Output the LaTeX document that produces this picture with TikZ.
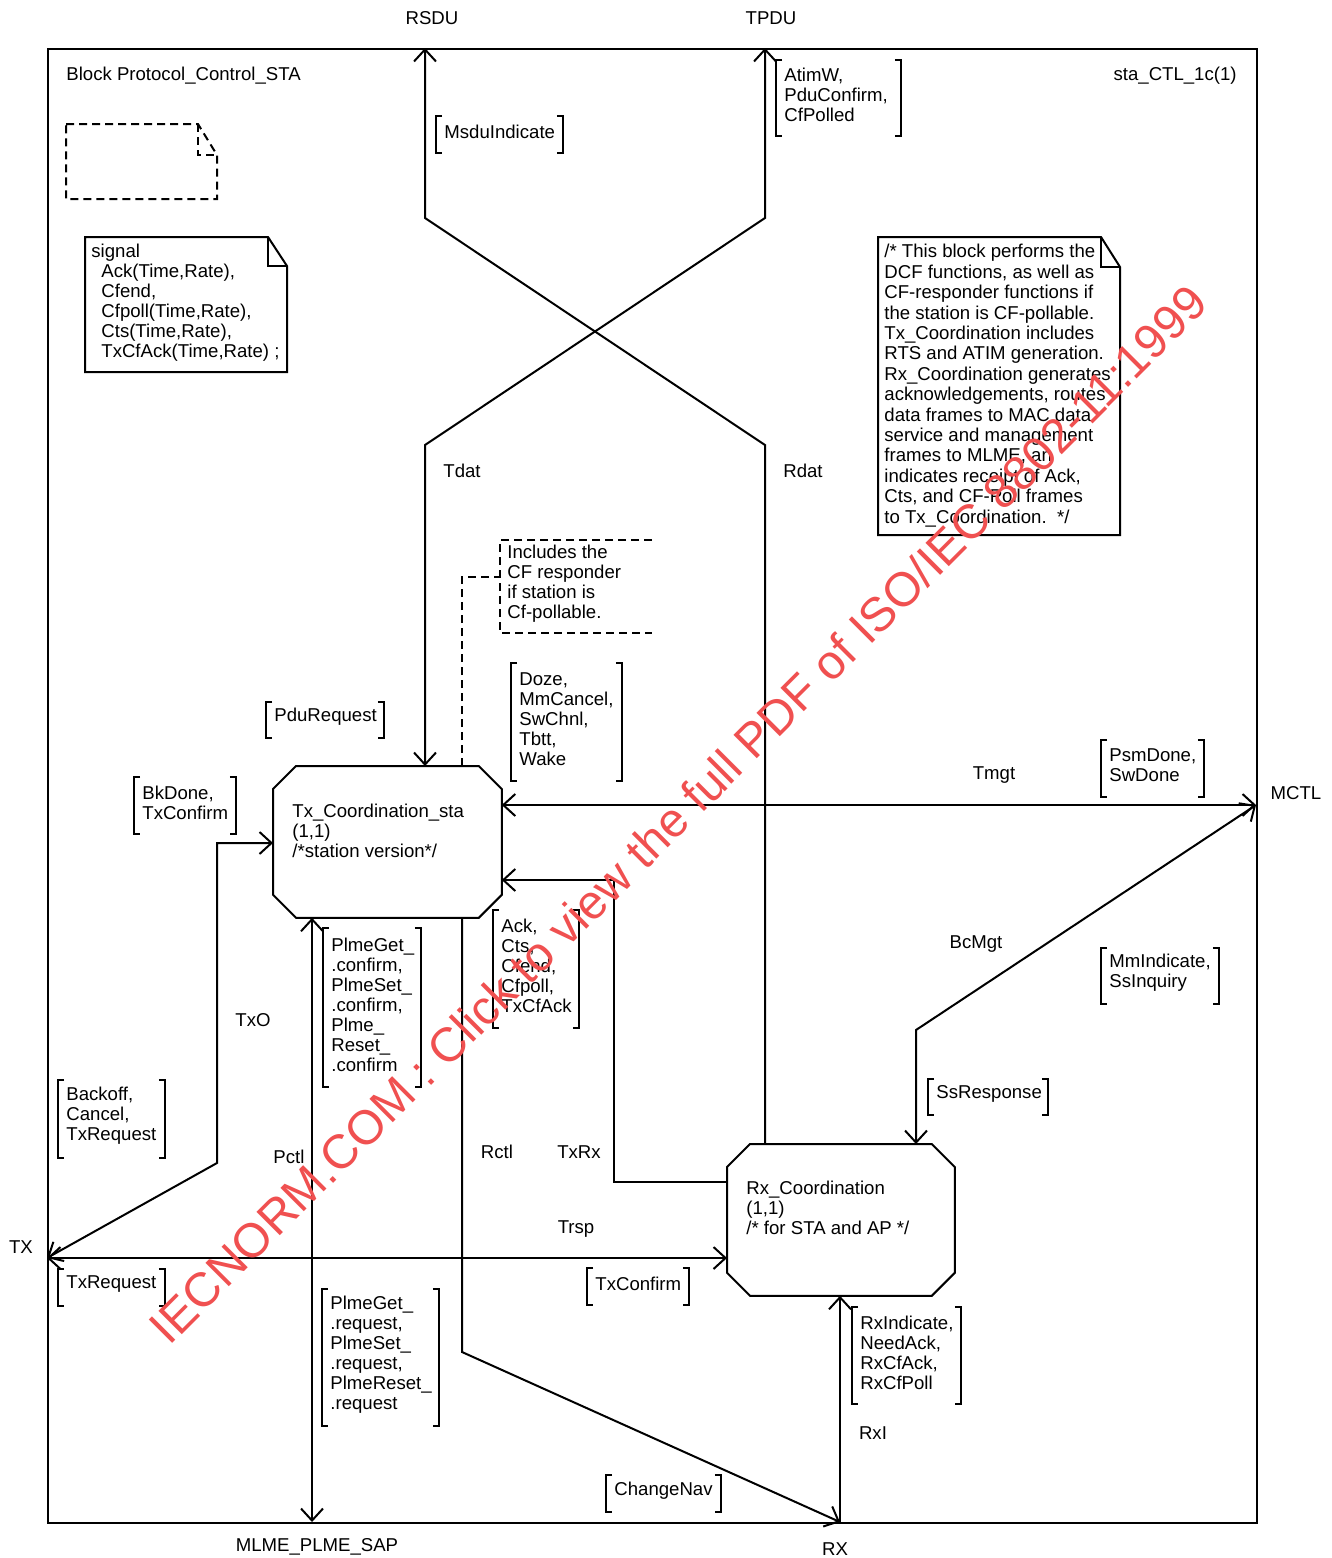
\documentclass[tikz,border=0pt]{standalone}
\usepackage{fontspec}
\setmainfont{Liberation Sans}
\usetikzlibrary{arrows.meta}
\definecolor{wmred}{RGB}{240,80,80}
\newcommand\sigbox[6]{%
  \pgfmathsetmacro\sbw{(#4-#2)*0.5}%
  \pgfmathsetmacro\sbmh{(#5-#3)*0.5}%
  \node[brk, minimum width=\sbw pt, minimum height=\sbmh pt] (#1) at (#2,#3) {};
  \node[anchor=west, align=left, xshift=4pt, yshift=1.5pt] (#1t) at (#1.west) {#6};
  \draw[brkline] ([xshift=3pt]#1.north west) -- (#1.north west) -- (#1.south west) -- ([xshift=3pt]#1.south west);
  \draw[brkline] ([xshift=-3pt]#1.north east) -- (#1.north east) -- (#1.south east) -- ([xshift=-3pt]#1.south east);}
\newcommand\octagonof[1]{%
  \draw[sig] ([xshift=11.5pt]#1.north west) -- ([xshift=-11.5pt]#1.north east)
    -- ([yshift=-11.5pt]#1.north east) -- ([yshift=11.5pt]#1.south east)
    -- ([xshift=-11.5pt]#1.south east) -- ([xshift=11.5pt]#1.south west)
    -- ([yshift=11.5pt]#1.south west) -- ([yshift=-11.5pt]#1.north west) -- cycle;}
\begin{document}
\begin{tikzpicture}[x=0.5pt,y=-0.5pt,
  every node/.style={font=\fontsize{9.3}{10}\selectfont, inner sep=0pt},
  sig/.style={line width=1pt, line join=miter},
  arr/.style={arrows={-Straight Barb[length=6pt,width=11pt,line width=1pt]}},
  barr/.style={arrows={Straight Barb[length=6pt,width=11pt,line width=1pt]-Straight Barb[length=6pt,width=11pt,line width=1pt]}},
  brk/.style={anchor=north west, inner sep=0pt},
  brkline/.style={line width=1pt},
  dsh/.style={line width=1pt, dash pattern=on 4pt off 2.5pt},
  proc/.style={anchor=north west, minimum width=114pt, minimum height=75.5pt},
  lbl/.style={anchor=center}]
\useasboundingbox (0,0) rectangle (1332,1558);
\fill[white] (0,0) rectangle (1332,1558);

% frame
\node[draw, line width=1pt, anchor=north west, minimum width=604.5pt, minimum height=737pt] (frame) at (47,48) {};

% gates
\coordinate (rsdu) at (425,48);
\coordinate (tpdu) at (765,48);
\coordinate (mctl) at (1256,805);
\coordinate (txg) at (47,1258);
\coordinate (mlme) at (312,1522);
\coordinate (rxg) at (840,1522);

\node[lbl] (lRSDU) at (432,18) {RSDU};
\node[lbl] (lTPDU) at (771,18) {TPDU};
\node[lbl] (lMCTL) at (1296,793) {MCTL};
\node[lbl] (lTX) at (21,1247) {TX};
\node[lbl] (lMLME) at (317,1547) {MLME\_PLME\_SAP};
\node[lbl] (lRX) at (835,1549) {RX};

\node[anchor=west] (blk) at (66,76) {Block Protocol\_Control\_STA};
\node[anchor=east] (sta) at (1237,76) {sta\_CTL\_1c(1)};

% dashed empty note
\draw[dsh] (66,124) -- (198,124) -- (217,155) -- (217,199) -- (66,199) -- cycle;
\draw[dsh] (198,124) -- (198,155) -- (217,155);

% signal note
\draw[sig] (85,237) -- (268,237) -- (287,266) -- (287,372) -- (85,372) -- cycle;
\draw[sig] (268,237) -- (268,266) -- (287,266);
\node[anchor=north west, align=left] (signote) at (91,244) {signal\\
\hspace*{5pt}Ack(Time,Rate),\\
\hspace*{5pt}Cfend,\\
\hspace*{5pt}Cfpoll(Time,Rate),\\
\hspace*{5pt}Cts(Time,Rate),\\
\hspace*{5pt}TxCfAck(Time,Rate) ;};

% big comment note
\draw[sig] (878,237) -- (1101,237) -- (1120,267) -- (1120,535) -- (878,535) -- cycle;
\draw[sig] (1101,237) -- (1101,267) -- (1120,267);
\node[anchor=north west, align=left, font=\fontsize{9.3}{10.2}\selectfont] (note) at (884,244) {/* This block performs the\\
DCF functions, as well as\\
CF-responder functions if\\
the station is CF-pollable.\\
Tx\_Coordination includes\\
RTS and ATIM generation.\\
Rx\_Coordination generates\\
acknowledgements, routes\\
data frames to MAC data\\
service and management\\
frames to MLME, an\\
indicates receipt of Ack,\\
Cts, and CF-Poll frames\\
to Tx\_Coordination.\ \ */};

% dashed comment
\draw[dsh] (652,540) -- (500,540) -- (500,633) -- (652,633);
\node[anchor=north west, align=left] (cmt) at (507,545) {Includes the\\CF responder\\if station is\\Cf-pollable.};

% processes
\node[proc] (tx) at (273,766) {};
\octagonof{tx}
\node[anchor=north west, align=left] (txt) at (292,804) {Tx\_Coordination\_sta\\(1,1)\\/*station version*/};
\node[proc, minimum width=113.5pt] (rx) at (727,1144) {};
\octagonof{rx}
\node[anchor=north west, align=left] (rxt) at (746,1181) {Rx\_Coordination\\(1,1)\\/* for STA and AP */};

% connectors
\draw[sig,barr] (tpdu) -- (765,218) -- (425,445) -- (tx.north -| rsdu);
\draw[sig,arr] (rx.north -| tpdu) -- (765,445) -- (425,218) -- (rsdu);
\draw[dsh] (462,0 |- tx.north) -- (462,577) -- (500,577);
\draw[sig,barr] (tx.east |- mctl) -- (mctl);
\draw[sig,barr] (mctl) -- (916,1030) -- (916,0 |- rx.north);
\draw[sig,arr] (rx.west |- 0,1182) -- (614,1182) -- (614,880) -- (tx.east |- 0,880);
\draw[sig,barr] (txg) -- (rx.west |- txg);
\draw[sig,barr] (txg) -- (217,1163) -- (217,843) -- (tx.west |- 0,843);
\draw[sig,barr] (tx.south -| mlme) -- (mlme);
\draw[sig,arr] (462,0 |- tx.south) -- (462,1352) -- (rxg);
\draw[sig,arr] (rxg) -- (rx.south -| rxg);

% connector labels
\node[lbl] (cTdat) at (462,471) {Tdat};
\node[lbl] (cRdat) at (803,471) {Rdat};
\node[lbl] (cTmgt) at (994,775) {Tmgt};
\node[lbl] (cBcMgt) at (976,944) {BcMgt};
\node[lbl] (cTxO) at (253,1020) {TxO};
\node[lbl] (cPctl) at (289,1157) {Pctl};
\node[lbl] (cRctl) at (497,1152) {Rctl};
\node[lbl] (cTxRx) at (579,1152) {TxRx};
\node[lbl] (cTrsp) at (576,1229) {Trsp};
\node[lbl] (cRxI) at (873,1433) {RxI};

% signal lists
\sigbox{sMsdu}{436}{116}{562}{152}{MsduIndicate}
\sigbox{sAtim}{776}{60}{900}{135}{AtimW,\\PduConfirm,\\CfPolled}
\sigbox{sPdu}{266}{702}{383}{737}{PduRequest}
\sigbox{sDoze}{511}{663}{621}{780}{Doze,\\MmCancel,\\SwChnl,\\Tbtt,\\Wake}
\sigbox{sBk}{134}{777}{235}{833}{BkDone,\\TxConfirm}
\sigbox{sPsm}{1101}{740}{1203}{796}{PsmDone,\\SwDone}
\sigbox{sPconf}{323}{928}{420}{1086}{PlmeGet\_\\.confirm,\\PlmeSet\_\\.confirm,\\Plme\_\\Reset\_\\.confirm}
\sigbox{sAck}{493}{910}{578}{1027}{Ack,\\Cts,\\Cfend,\\Cfpoll,\\TxCfAck}
\sigbox{sMm}{1101}{948}{1218}{1003}{MmIndicate,\\SsInquiry}
\sigbox{sSs}{928}{1079}{1047}{1114}{SsResponse}
\sigbox{sBo}{58}{1080}{164}{1157}{Backoff,\\Cancel,\\TxRequest}
\sigbox{sTxr}{58}{1269}{164}{1305}{TxRequest}
\sigbox{sTxc}{587}{1268}{688}{1304}{TxConfirm}
\sigbox{sPreq}{322}{1289}{438}{1425}{PlmeGet\_\\.request,\\PlmeSet\_\\.request,\\PlmeReset\_\\.request}
\sigbox{sRxi}{852}{1307}{960}{1403}{RxIndicate,\\NeedAck,\\RxCfAck,\\RxCfPoll}
\sigbox{sNav}{606}{1475}{720}{1511}{ChangeNav}

% watermark
\node[rotate=45, text=wmred, font=\fontsize{24}{24}\selectfont] (wm) at (678,814) {IECNORM.COM : Click to view the full PDF of ISO/IEC 8802-11:1999};
\end{tikzpicture}
\end{document}
